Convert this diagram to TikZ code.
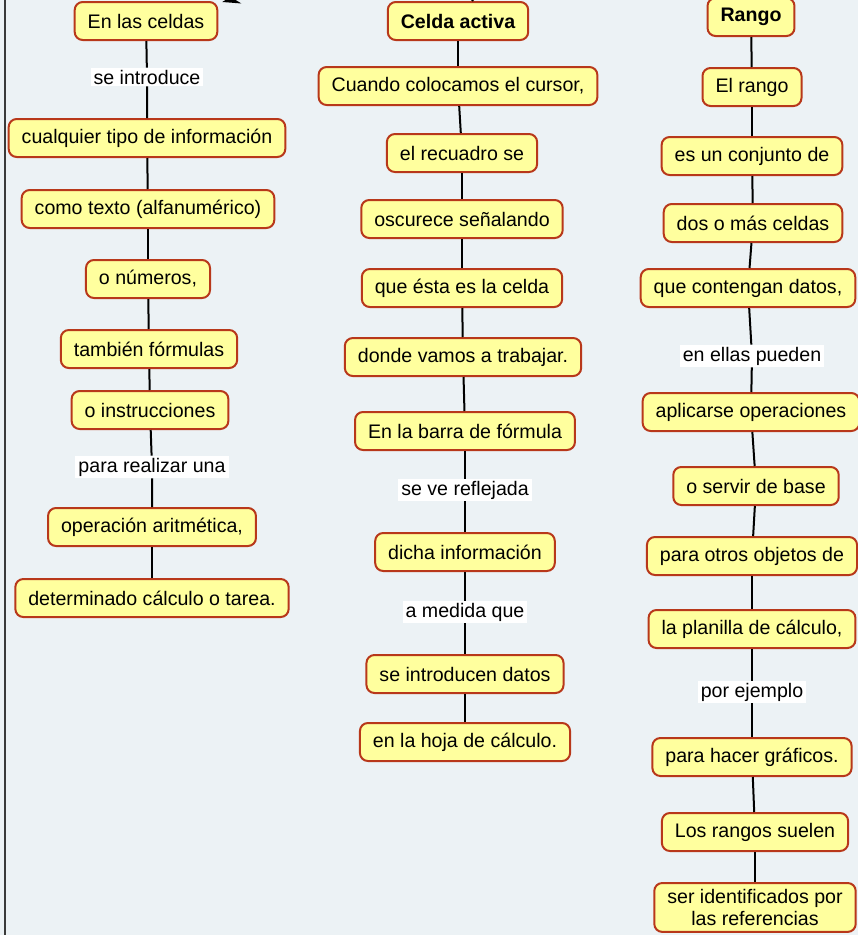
\documentclass[tikz,border=0pt]{standalone}
\usepackage{fontspec}
\setmainfont{Liberation Sans}
\usetikzlibrary{arrows.meta}
\definecolor{bgc}{HTML}{ECF2F5}
\definecolor{boxfill}{HTML}{FFFF9E}
\definecolor{boxline}{HTML}{B8381A}
\definecolor{framec}{HTML}{3A3A3A}
\tikzset{
  cbox/.style={draw=boxline, fill=boxfill, line width=2pt, rounded corners=8pt,
    inner xsep=13pt, inner ysep=0pt, minimum height=38pt, text=black,
    font=\fontsize{19.6}{22.5}\selectfont, align=center},
  cbold/.style={cbox, font=\fontsize{19.6}{22.5}\selectfont\bfseries},
  clabel/.style={fill=white, inner xsep=3pt, inner ysep=2pt, text=black,
    font=\fontsize{19.6}{22.5}\selectfont},
  conn/.style={draw=black, line width=2pt}
}
\begin{document}
\begin{tikzpicture}[x=1pt,y=-1pt]
\fill[bgc] (0,0) rectangle (858,935);
\useasboundingbox (0,0) rectangle (858,935);
\clip (0,0) rectangle (858,935);
\draw[framec, line width=1.8pt] (5,-2) -- (5,937);

% left column
\node[cbox] (L1) at (146,21) {En las celdas};
\node[clabel] (L2) at (147,77) {se introduce};
\node[cbox] (L3) at (147,138) {cualquier tipo de información};
\node[cbox] (L4) at (148,209) {como texto (alfanumérico)};
\node[cbox] (L5) at (148,279) {o números,};
\node[cbox] (L6) at (149,349) {también fórmulas};
\node[cbox] (L7) at (150,410) {o instrucciones};
\node[clabel] (L8) at (152,467) {para realizar una};
\node[cbox] (L9) at (152,527) {operación aritmética,};
\node[cbox] (L10) at (152,598) {determinado cálculo o tarea.};

% middle column
\node[cbold] (M1) at (458,21) {Celda activa};
\node[cbox] (M2) at (458,86) {Cuando colocamos el cursor,};
\node[cbox] (M3) at (462,153) {el recuadro se};
\node[cbox] (M4) at (462,219) {oscurece señalando};
\node[cbox] (M5) at (462,288) {que ésta es la celda};
\node[cbox] (M6) at (463,357) {donde vamos a trabajar.};
\node[cbox] (M7) at (465,431) {En la barra de fórmula};
\node[clabel] (M8) at (465,490) {se ve reflejada};
\node[cbox] (M9) at (465,552) {dicha información};
\node[clabel] (M10) at (465,612) {a medida que};
\node[cbox] (M11) at (465,674) {se introducen datos};
\node[cbox] (M12) at (465,742) {en la hoja de cálculo.};

% right column
\node[cbold] (R1) at (751,17) {Rango};
\node[cbox] (R2) at (752,87) {El rango};
\node[cbox] (R3) at (752,156) {es un conjunto de};
\node[cbox] (R4) at (753,223) {dos o más celdas};
\node[cbox] (R5) at (748,288) {que contengan datos,};
\node[clabel] (R6) at (752,356) {en ellas pueden};
\node[cbox] (R7) at (751,412) {aplicarse operaciones};
\node[cbox] (R8) at (756,486) {o servir de base};
\node[cbox] (R9) at (752,556) {para otros objetos de};
\node[cbox] (R10) at (752,629) {la planilla de cálculo,};
\node[clabel] (R11) at (752,692) {por ejemplo};
\node[cbox] (R12) at (752,757) {para hacer gráficos.};
\node[cbox] (R13) at (755,832) {Los rangos suelen};
\node[cbox, anchor=north, inner ysep=6pt] (R14) at (755,882) {ser identificados por\\las referencias};

% connectors
\draw[conn] (L1) -- (L2) -- (L3);
\draw[conn] (L3) -- (L4);
\draw[conn] (L4) -- (L5);
\draw[conn] (L5) -- (L6);
\draw[conn] (L6) -- (L7);
\draw[conn] (L7) -- (L8) -- (L9);
\draw[conn] (L9) -- (L10);

\draw[conn] (M1) -- (M2);
\draw[conn] (M2) -- (M3);
\draw[conn] (M3) -- (M4);
\draw[conn] (M4) -- (M5);
\draw[conn] (M5) -- (M6);
\draw[conn] (M6) -- (M7);
\draw[conn] (M7) -- (M8) -- (M9);
\draw[conn] (M9) -- (M10) -- (M11);
\draw[conn] (M11) -- (M12);

\draw[conn] (R1) -- (R2);
\draw[conn] (R2) -- (R3);
\draw[conn] (R3) -- (R4);
\draw[conn] (R4) -- (R5);
\draw[conn] (R5) -- (R6) -- (R7);
\draw[conn] (R7) -- (R8);
\draw[conn] (R8) -- (R9);
\draw[conn] (R9) -- (R10);
\draw[conn] (R10) -- (R11) -- (R12);
\draw[conn] (R12) -- (R13);
\draw[conn] (R13) -- (R14);

% fragments of connectors arriving from outside the view
\coordinate (tl) at (262,-8);
\coordinate (tm) at (476,-4);
\draw[conn, -{Stealth[length=18pt,width=12pt]}] (tl) -- ([xshift=4pt,yshift=-1pt]L1.north east);
\draw[conn] (tm) -- ([xshift=14pt]M1.north);
\end{tikzpicture}
\end{document}
